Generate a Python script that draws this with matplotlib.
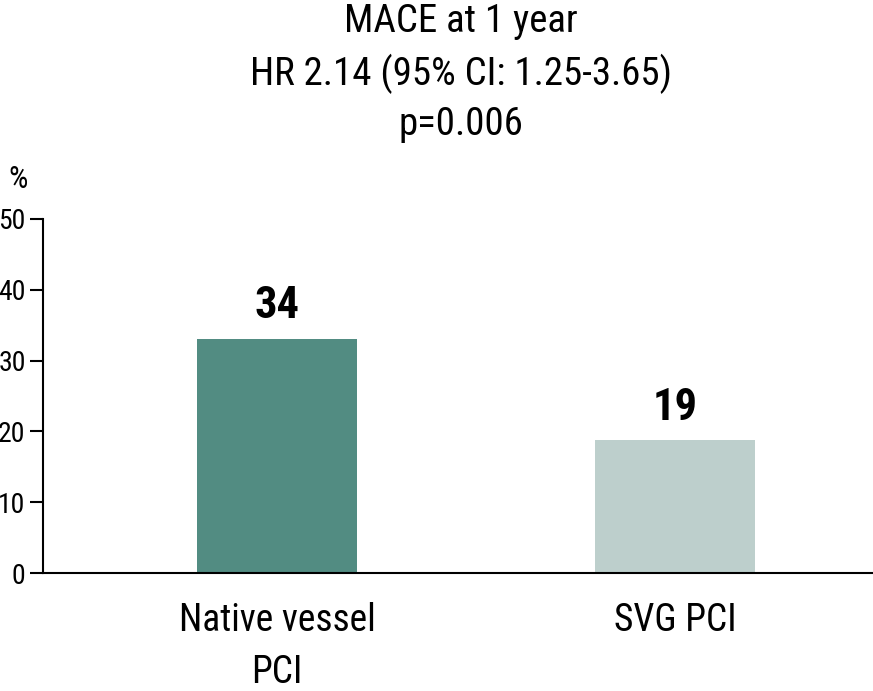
import matplotlib
matplotlib.use('Agg')
from matplotlib import pyplot as plt

groups = ["Native vessel\nPCI", "SVG PCI"]
mace = [33.1, 18.8]          # bar heights as drawn
mace_labels = ["34", "19"]   # printed values
bar_colors = ["#528c82", "#bdcfcc"]
yticks = [0, 10, 20, 30, 40, 50]

plt.rcParams['font.family'] = ['Roboto Condensed', 'DejaVu Sans']

fig = plt.figure(figsize=(8.73, 6.91), dpi=100)
ax = fig.add_axes([43/873, 1-573/691, 1-43/873, (573-219)/691])

x = list(range(len(groups)))
ax.bar(x, mace, width=0.402, color=bar_colors)
for xi, v, lab in zip(x, mace, mace_labels):
    ax.text(xi, v + 2.85, lab, ha='center', va='baseline', fontsize=32, fontweight='bold')

ax.set_xlim(-0.588, 1.497)
ax.set_ylim(0, 50)
ax.set_yticks(yticks)
ax.set_yticklabels([str(t) for t in yticks], fontsize=20)
ax.set_xticks(x)
ax.set_xticklabels(groups, fontsize=27, linespacing=1.5)
ax.tick_params(axis='x', length=0, pad=21)
ax.tick_params(axis='y', length=9.5, width=1.5, pad=3)
ax.spines['top'].set_visible(False)
ax.spines['right'].set_visible(False)
ax.spines['left'].set_linewidth(1.5)
ax.spines['bottom'].set_linewidth(1.5)

# y unit label
fig.text(18/873, 1-188/691, "%", fontsize=22, ha='center', va='baseline')
fig.text(0.528, 1-135/691, "MACE at 1 year\nHR 2.14 (95% CI: 1.25-3.65)\np=0.006",
         ha='center', va='baseline', fontsize=28, linespacing=1.43)

fig.savefig("out.png", dpi=100)
